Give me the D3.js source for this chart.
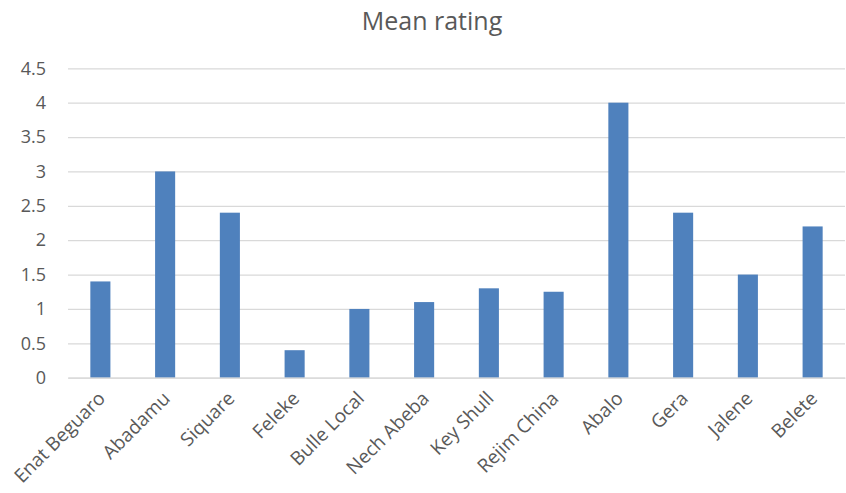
<!DOCTYPE html>
<html><head><meta charset="utf-8">
<script src="https://cdn.jsdelivr.net/npm/d3@7"></script>
<style>body{margin:0;background:#fff}svg{display:block}</style>
</head><body>
<svg id="c" width="846" height="493"></svg>
<script>
const categories = ["Enat Beguaro","Abadamu","Siquare","Feleke","Bulle Local","Nech Abeba","Key Shull","Rejim China","Abalo","Gera","Jalene","Belete"];
const values = [1.4,3,2.4,0.4,1.0,1.1,1.3,1.25,4,2.4,1.5,2.2];
const yTicks = [0,0.5,1,1.5,2,2.5,3,3.5,4,4.5];
const chartTitle = "Mean rating";

(function(){
const svg = d3.select("#c");
const font = "'Open Sans', sans-serif";
const pl = 68, pr = 845, pt = 68.3, pb = 377.7;
const x = d3.scaleBand().domain(categories).range([pl, pr]).paddingInner(0.69).paddingOuter(0.345);
const y = d3.scaleLinear().domain([0,4.5]).range([pb, pt]);

const grid = svg.append("g").attr("transform", `translate(${pl},0)`)
  .call(d3.axisLeft(y).tickValues(yTicks).tickSize(-(pr-pl)).tickFormat(d3.format("")));
grid.select(".domain").remove();
grid.selectAll(".tick line").attr("stroke","#d9d9d9").attr("stroke-width",1.3);
grid.selectAll(".tick text").attr("x",-22).attr("fill","#595959")
  .style("font-family",font).style("font-size","18px");

svg.append("g").selectAll("rect").data(values).join("rect")
  .attr("x",(d,i)=>x(categories[i])).attr("width",x.bandwidth())
  .attr("y",d=>y(d)).attr("height",d=>y(0)-y(d)).attr("fill","#4f81bd");

const xa = svg.append("g").attr("transform",`translate(0,${pb})`)
  .call(d3.axisBottom(x).tickSize(0));
xa.select(".domain").attr("stroke","#d9d9d9").attr("stroke-width",1.3);
xa.selectAll(".tick text").attr("fill","#595959")
  .style("font-family",font).style("font-size","19px")
  .attr("text-anchor","end").attr("dy",0).attr("y",0)
  .attr("transform","translate(6,22) rotate(-45)");

svg.append("text").attr("x",432).attr("y",30).attr("text-anchor","middle")
  .attr("fill","#595959").style("font-family",font).style("font-size","25px").text(chartTitle);
})();
</script>
</body></html>
